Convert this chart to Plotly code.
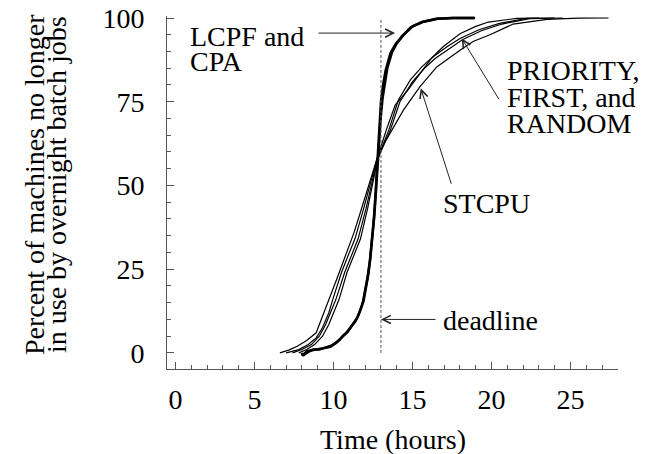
import plotly.graph_objects as go

# ---------------- data ----------------
lcpf_x = [8.0, 8.05, 8.3, 8.6, 9.0, 9.4, 9.8, 10.1, 10.4, 10.6, 10.8, 11.05, 11.3, 11.5, 11.7, 11.85,
          12.0, 12.15, 12.3, 12.42, 12.55, 12.65, 12.75, 12.82, 12.9, 13.0, 13.15, 13.3, 13.6, 13.9,
          14.3, 14.9, 15.6, 16.5, 17.5, 18.96]
lcpf_y = [0, -0.8, 0.5, 0.8, 1.2, 1.5, 1.8, 2.8, 4.0, 5.2, 6.0, 7.4, 9.0, 10.5, 12.8, 15.0,
          18.8, 22.5, 27.5, 33, 40, 47, 55, 62, 69, 75, 80.5, 84.5, 89.5, 92, 94.4, 97.3, 98.8,
          99.8, 100, 100]

cpa_x = [8.1, 8.15, 8.4, 8.7, 9.1, 9.5, 9.85, 10.15, 10.45, 10.65, 10.9, 11.1, 11.35, 11.55, 11.72,
         11.9, 12.05, 12.2, 12.33, 12.45, 12.58, 12.68, 12.78, 12.88, 12.98, 13.1, 13.25, 13.4, 13.7,
         14.0, 14.4, 15.0, 15.7, 16.6, 17.6, 18.9]
cpa_y = [0, -0.5, 0.3, 1.0, 1.0, 1.6, 2.2, 3.0, 4.3, 5.0, 6.3, 7.8, 9.2, 11.0, 13.0, 15.5,
         19.5, 23.5, 28.5, 34, 41, 48, 56, 63, 70, 76, 81, 85, 89.8, 92.4, 94.8, 97.5, 98.9,
         99.8, 100, 100]

priority_x = [7.0, 7.8, 8.4, 8.9, 9.3, 9.7, 9.95, 10.5, 11.0, 11.35, 11.9, 12.35, 12.75, 13.37,
              13.9, 14.7, 15.47, 16.2, 16.93, 18.0, 19.0, 19.8, 21.6, 23.0]
priority_y = [0, 1.0, 2.5, 4.5, 7.5, 12, 16, 24, 30, 34, 43, 51, 58, 67,
              74, 78.5, 83.5, 88, 91.4, 95.3, 97.5, 98.8, 99.9, 100]

first_x = [7.4, 8.0, 8.6, 9.1, 9.5, 9.85, 10.15, 10.7, 11.2, 11.55, 12.05, 12.45, 12.78, 13.5,
           14.1, 14.86, 15.6, 16.32, 17.2, 18.0, 19.2, 20.5, 22.2, 24.0]
first_y = [0, 1.0, 2.5, 5, 8.5, 12.5, 16, 24, 30, 34, 43, 51, 58, 66.6,
           75.5, 81.5, 85.5, 88.5, 91.5, 93.9, 96.5, 98.4, 99.9, 100]

random_x = [7.8, 8.3, 8.8, 9.3, 9.7, 10.05, 10.35, 10.85, 11.35, 11.7, 12.15, 12.5, 12.8, 13.6,
            14.2, 15.0, 15.75, 16.45, 17.35, 18.15, 19.35, 20.65, 22.4, 24.5]
random_y = [0, 1.0, 2.5, 5, 8.5, 12.5, 16, 24, 30, 34, 43, 51, 58, 66.6,
            75, 81, 85, 88, 91, 93.5, 96.2, 98.2, 99.8, 100]

stcpu_x = [6.6, 7.2, 7.7, 8.3, 8.9, 9.2, 9.55, 10.2, 10.85, 11.3, 11.7, 12.2, 12.75, 13.2, 13.68,
           14.42, 15.47, 16.53, 18.0, 18.83, 19.9, 21.36, 23.5, 25.5, 27.4]
stcpu_y = [0, 0.9, 2.0, 3.7, 6.0, 10, 14, 22, 30, 36, 42, 49.5, 58, 62.5, 66.6,
           72.5, 79.5, 85.4, 90.4, 93.0, 95.0, 98.2, 99.6, 99.95, 100]

deadline_hours = 13.0
x_ticks = [0, 5, 10, 15, 20, 25]
y_ticks = [0, 25, 50, 75, 100]

# ---------------- layout helpers ----------------
# The page body has an 8px default margin, so the figure is made 8px smaller
# and its margins are reduced so the plot area lands at the intended pixels.
PAGE = 8
W, H = 657, 454
L, R, T, B = 167, 39, 16, 85
FONT = "Liberation Serif"
FS = 28
AX = "#555555"


def px(x):
    return (x - L) / (W - L - R)


def py(y):
    return (H - B - y) / (H - T - B)


fig = go.Figure()

thin = dict(color="black", width=1.2)
thick = dict(color="black", width=2.5)
for xs, ys, ln in [(stcpu_x, stcpu_y, thin), (priority_x, priority_y, thin),
                   (first_x, first_y, thin), (random_x, random_y, thin),
                   (lcpf_x, lcpf_y, thick), (cpa_x, cpa_y, thick)]:
    fig.add_trace(go.Scatter(x=xs, y=ys, mode="lines", line=ln, showlegend=False,
                             hoverinfo="skip"))

# deadline dashed line
fig.add_shape(type="line", xref="x", yref="y", x0=deadline_hours, x1=deadline_hours,
              y0=0, y1=100, line=dict(color=AX, width=1, dash="3px,2px"))

# arrows (empty-text annotations)
arrows = [
    (13.89, 95.5, -78, 0),
    (18.11, 93.9, 38, 62),
    (15.52, 79.0, 31, 97),
    (deadline_hours, 10.0, 56, 0),
]
for x, y, ax, ay in arrows:
    fig.add_annotation(x=x, y=y, xref="x", yref="y", ax=ax, ay=ay, text="",
                       showarrow=True, arrowhead=5, arrowsize=1.6, arrowwidth=1,
                       arrowcolor="#222222")

texts = [
    ("LCPF and", 188, 36),
    ("CPA", 188, 62),
    ("PRIORITY,", 505, 70),
    ("FIRST, and", 505, 97),
    ("RANDOM", 505, 124),
    ("STCPU", 441, 203),
    ("deadline", 441, 320),
]
for t, x, y in texts:
    fig.add_annotation(x=px(x), y=py(y), xref="paper", yref="paper", text=t,
                       showarrow=False, xanchor="left", yanchor="middle",
                       font=dict(family=FONT, size=FS, color="black"))

fig.add_annotation(x=px(392.5), y=py(440), xref="paper", yref="paper", text="Time (hours)",
                   showarrow=False, xanchor="center", yanchor="middle",
                   font=dict(family=FONT, size=FS, color="black"))
for t, x in [("Percent of machines no longer", 34), ("in use by overnight batch jobs", 56)]:
    fig.add_annotation(x=px(x), y=py(185), xref="paper", yref="paper", text=t,
                       showarrow=False, xanchor="center", yanchor="middle", textangle=-90,
                       font=dict(family=FONT, size=FS, color="black"))

fig.update_layout(
    width=W - PAGE, height=H - PAGE,
    margin=dict(l=L - PAGE, r=R, t=T - PAGE, b=B, pad=0, autoexpand=False),
    paper_bgcolor="white", plot_bgcolor="white",
    showlegend=False,
    font=dict(family=FONT, size=FS, color="black"),
    xaxis=dict(range=[-0.54, 28], tickmode="array", tickvals=x_ticks, automargin=False,
               ticktext=[str(v) for v in x_ticks], ticks="inside", ticklen=7,
               tickcolor=AX, tickwidth=1, showline=True, linecolor=AX, linewidth=1,
               showgrid=False, zeroline=False, ticklabelstandoff=5,
               ticklabeloverflow="allow",
               tickfont=dict(family=FONT, size=FS, color="black"),
               minor=dict(tickmode="linear", tick0=0, dtick=1, ticks="inside", ticklen=4,
                          tickcolor=AX, tickwidth=1, showgrid=False)),
    yaxis=dict(range=[-4.8, 100.6], tickmode="array", tickvals=y_ticks, automargin=False,
               ticktext=[str(v) for v in y_ticks], ticks="inside", ticklen=7,
               tickcolor=AX, tickwidth=1, showline=True, linecolor=AX, linewidth=1,
               showgrid=False, zeroline=False, ticklabelstandoff=16,
               ticklabeloverflow="allow",
               tickfont=dict(family=FONT, size=FS, color="black"),
               minor=dict(tickmode="linear", tick0=0, dtick=5, ticks="inside", ticklen=4,
                          tickcolor=AX, tickwidth=1, showgrid=False)),
)

fig.write_html("out.html")
